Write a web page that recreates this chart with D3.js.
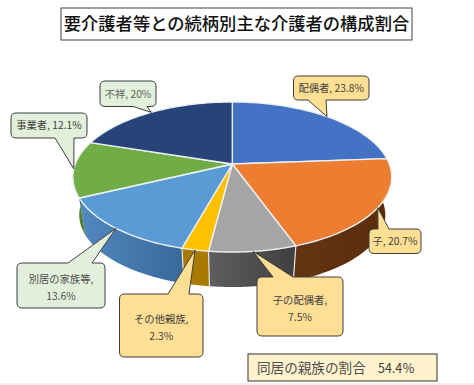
<!DOCTYPE html>
<html><head><meta charset="utf-8">
<script src="https://cdn.jsdelivr.net/npm/d3@7/dist/d3.min.js"></script>
<style>html,body{margin:0;padding:0;background:#fff}svg{display:block}text{font-family:"Noto Sans CJK JP","Noto Sans",sans-serif}</style>
</head><body><svg id="c" width="474" height="385"></svg>
<script>
const categories = ["配偶者","子","子の配偶者","その他親族","別居の家族等","事業者","不祥"];
const values = [23.8,20.7,7.5,2.3,13.6,12.1,20];
const valueLabels = ["23.8%","20.7%","7.5%","2.3%","13.6%","12.1%","20%"];
const titleText = "要介護者等との続柄別主な介護者の構成割合";
const noteText = "同居の親族の割合";
const noteValue = "54.4％";

const topColors = ["#4472c4","#ed7d31","#a5a5a5","#ffc000","#5b9bd5","#70ad47","#264478"];
const wallFrom = ["#2f5597","#643312","#5e5e5e","#a87a00","#5289c0","#4f7f30","#1c3358"];
const wallTo   = ["#2f5597","#5a2d0c","#3f3f3f","#a87a00","#37689a","#4f7f30","#1c3358"];
const boxes = [
 {x:293.5,y:76,w:75.5,h:24,fill:"#ffdf94",lines:1,baseA:308,baseB:326,ink:"#404040"},
 {x:369,y:229,w:52,h:24.5,fill:"#ffdf94",lines:1,baseA:378,baseB:389,ink:"#404040"},
 {x:257,y:277,w:86,h:59,fill:"#ffdf94",lines:2,baseA:273,baseB:293,ink:"#404040"},
 {x:119.5,y:294,w:83.5,h:63,fill:"#ffdf94",lines:2,baseA:168,baseB:189,ink:"#404040"},
 {x:17,y:263,w:88,h:45,fill:"#e2efda",lines:2,baseA:68,baseB:92,ink:"#505050"},
 {x:11,y:113,w:76,h:25,fill:"#e2efda",lines:1,baseA:55,baseB:74,ink:"#404040"},
 {x:100,y:81,w:56,h:25.5,fill:"#e2efda",lines:1,baseA:133,baseB:147,ink:"#606060"}
];

const svg = d3.select("#c");
const cx=232.3, cy=164, D=5.77, RX=906, RY=420, baseScale=0.96, baseDrop=38.5;
const proj=(a,s=1,drop=0)=>{const c=Math.cos(a),q=D+c;
  return [cx+s*RX*Math.sin(a)/q, cy+drop+s*RY*(-c)/q];};
const pie=d3.pie().sort(null).value(d=>d)(values);
const line=d3.line();
const arcPts=(a0,a1,s,drop)=>d3.range(0,41).map(i=>proj(a0+(a1-a0)*i/40,s,drop));

svg.append("rect").attr("width",474).attr("height",385).attr("fill","#fff");
svg.append("rect").attr("y",383).attr("width",474).attr("height",2).attr("fill","#f0f0f0");

const defs=svg.append("defs");
pie.forEach((p,i)=>{
  const g=defs.append("linearGradient").attr("id","w"+i);
  g.append("stop").attr("offset",0).attr("stop-color",wallFrom[i]);
  g.append("stop").attr("offset",1).attr("stop-color",wallTo[i]);
});
// side walls
svg.append("g").selectAll("path").data(pie).join("path")
 .attr("d",p=>line([...arcPts(p.startAngle,p.endAngle,1,0),...arcPts(p.endAngle,p.startAngle,baseScale,baseDrop)])+"Z")
 .attr("fill",(p,i)=>`url(#w${i})`);
// wall seams between slices on the near side
svg.append("g").selectAll("path").data(pie.filter(p=>{const c=Math.cos(p.endAngle);return c<0.1;}).slice(0,-1)).join("path")
 .attr("d",p=>line([proj(p.endAngle),proj(p.endAngle,baseScale,baseDrop)]))
 .attr("stroke","#e4e4e4").attr("stroke-width",1.2).attr("fill","none");
// top faces
svg.append("g").selectAll("path").data(pie).join("path")
 .attr("d",p=>line([[cx,cy],...arcPts(p.startAngle,p.endAngle,1,0)])+"Z")
 .attr("fill",(p,i)=>topColors[i])
 .attr("stroke","#eef0f2").attr("stroke-width",1.4).attr("stroke-linejoin","round");

// callouts
function callout(b,tip){
  const r=5,x0=b.x,y0=b.y,x1=b.x+b.w,y1=b.y+b.h,A=b.baseA,B=b.baseB;
  const bottom=tip[1]>y1;
  let d=`M${x0+r},${y0}`;
  if(!bottom) d+=`L${A},${y0}L${tip[0]},${tip[1]}L${B},${y0}`;
  d+=`L${x1-r},${y0}Q${x1},${y0} ${x1},${y0+r}L${x1},${y1-r}Q${x1},${y1} ${x1-r},${y1}`;
  if(bottom) d+=`L${B},${y1}L${tip[0]},${tip[1]}L${A},${y1}`;
  d+=`L${x0+r},${y1}Q${x0},${y1} ${x0},${y1-r}L${x0},${y0+r}Q${x0},${y0} ${x0+r},${y0}Z`;
  return d;
}
const cg=svg.append("g");
pie.forEach((p,i)=>{
  const b=boxes[i], tip=proj((p.startAngle+p.endAngle)/2);
  cg.append("path").attr("d",callout(b,tip)).attr("fill",b.fill).attr("stroke","#3f3f3f").attr("stroke-width",1);
  const t=cg.append("text").attr("text-anchor","middle").attr("fill",b.ink).attr("font-size",10.3);
  const mx=b.x+b.w/2,my=b.y+b.h/2;
  if(b.lines===1){
    t.append("tspan").attr("x",mx).attr("y",my+3.8).text(`${categories[i]}, ${valueLabels[i]}`);
  }else{
    t.append("tspan").attr("x",mx).attr("y",my-3).text(`${categories[i]},`);
    t.append("tspan").attr("x",mx).attr("y",my+14).text(valueLabels[i]);
  }
});

// title
svg.append("rect").attr("x",61).attr("y",8).attr("width",351).attr("height",32).attr("fill","#fff").attr("stroke","#404040").attr("stroke-width",1);
svg.append("text").attr("x",236.5).attr("y",30).attr("text-anchor","middle").attr("font-size",17.3).attr("font-weight",500).attr("fill","#111").text(titleText);
// note
svg.append("rect").attr("x",248).attr("y",354).attr("width",189).attr("height",27).attr("fill","#fff2cc").attr("stroke","#333").attr("stroke-width",1);
svg.append("text").attr("x",257).attr("y",373).attr("font-size",13.6).attr("fill","#505050").text(noteText);
svg.append("text").attr("x",378).attr("y",373).attr("font-size",12.5).attr("fill","#404040").text(noteValue);
</script></body></html>
